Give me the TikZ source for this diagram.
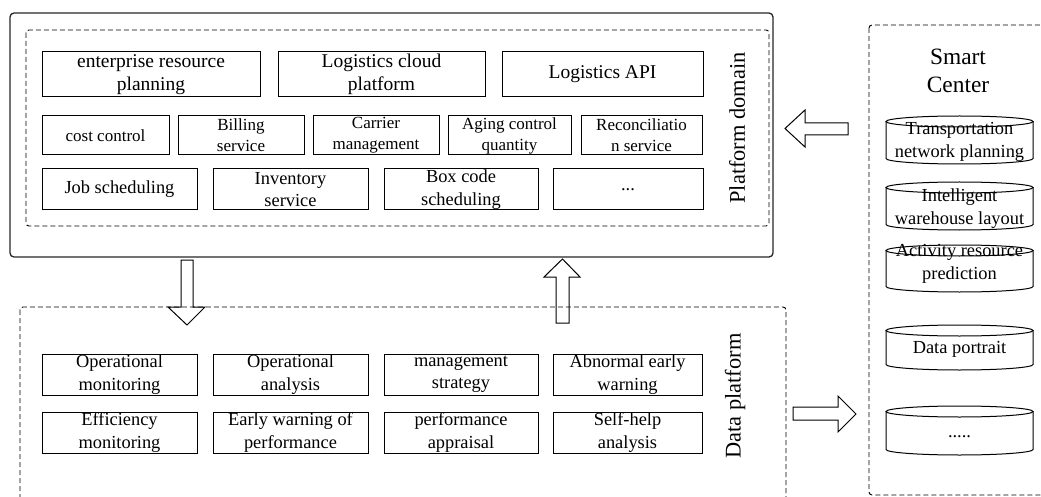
\documentclass[tikz,border=0pt]{standalone}
\usepackage{fontspec}
\setmainfont{Liberation Serif}
\newcommand{\mycyl}[5]{%
  \node[cyltext] (#1) at (959.5,#2) {#5};
  \draw[cylline] (959.5,#3+5.5) ellipse [x radius=73.5pt, y radius=5.5pt];
  \draw[cylline] (886,#3+5.5) -- (886,#4-5.5) arc[start angle=180,end angle=360,x radius=73.5pt,y radius=5.5pt] -- (1033,#3+5.5);
}
\begin{document}
\begin{tikzpicture}[x=1pt,y=-1pt,
  box/.style={draw=black, line width=1pt, inner sep=0pt, align=center},
  fA/.style={font=\fontsize{19.5}{23.5}\selectfont},
  fB/.style={font=\fontsize{17}{21}\selectfont},
  fC/.style={font=\fontsize{18.4}{22.5}\selectfont},
  rowA/.style={box, fA, minimum height=45pt},
  rowB/.style={box, fB, minimum height=39pt},
  rowC/.style={box, fC, minimum height=41pt},
  dbox/.style={draw=black, line width=0.9pt, dash pattern=on 5pt off 3pt, rounded corners=3pt},
  solidbox/.style={draw=black!85, line width=1.3pt, rounded corners=4pt},
  blockarrow/.style={draw=black, line width=1pt, line join=miter},
  cyltext/.style={inner sep=0pt, align=center, font=\fontsize{18.4}{23}\selectfont},
  cylline/.style={draw=black, line width=1pt},
  label/.style={inner sep=0pt, font=\fontsize{22.4}{27}\selectfont},
  title/.style={inner sep=0pt, align=center, font=\fontsize{23.4}{28}\selectfont}
]
\useasboundingbox (0,0) rectangle (1041,497);
\clip (0,0) rectangle (1041,497);

% Platform domain
\draw[solidbox] (10,13) rectangle (773,257);
\draw[dbox] (26,30) rectangle (769,226);

\node[rowA, minimum width=218pt] (erp) at (151,74.5) {enterprise resource\\planning};
\node[rowA, minimum width=207pt] (lcp) at (381.5,74.5) {Logistics cloud\\platform};
\node[rowA, minimum width=201pt] (api) at (602.5,74.5) {Logistics API};

\node[rowB, minimum width=127pt] (cost) at (105.5,135.5) {cost control};
\node[rowB, minimum width=126pt] (bill) at (241,135.5) {Billing\\service};
\node[rowB, minimum width=126pt] (carr) at (376,135.5) {Carrier\\management};
\node[rowB, minimum width=123pt] (aging) at (509.5,135.5) {Aging control\\quantity};
\node[rowB, minimum width=121pt] (recon) at (641.5,135.5) {Reconciliatio\\n service};

\node[rowC, minimum width=155pt] (job) at (119.5,189.5) {Job scheduling};
\node[rowC, minimum width=155pt] (inv) at (290.5,189.5) {Inventory\\service};
\node[rowC, minimum width=154pt] (boxc) at (461,189.5) {Box code\\scheduling};
\node[rowC, minimum width=150pt] (more1) at (628,189.5) {...};

\node[label, rotate=90] (pdlabel) at (737,128) {Platform domain};

% Data platform
\draw[dbox] (20,307) rectangle (786,520);

\node[rowC, minimum width=155pt] (opm) at (119.5,374.5) {Operational\\monitoring};
\node[rowC, minimum width=155pt] (opa) at (290.5,374.5) {Operational\\analysis};
\node[rowC, minimum width=154pt] (mgs) at (461,374.5) {management\\strategy};
\node[rowC, minimum width=149pt] (abn) at (627.5,374.5) {Abnormal early\\warning};

\node[rowC, minimum width=155pt] (eff) at (119.5,432.5) {Efficiency\\monitoring};
\node[rowC, minimum width=155pt] (ewp) at (290.5,432.5) {Early warning of\\performance};
\node[rowC, minimum width=154pt] (pfa) at (461,432.5) {performance\\appraisal};
\node[rowC, minimum width=149pt] (self) at (627.5,432.5) {Self-help\\analysis};

\node[label, rotate=90] (dplabel) at (735,396) {Data platform};

% Smart Center
\draw[dbox] (869,25) rectangle (1060,495);
\node[title] (smart) at (958,71) {Smart\\Center};

\mycyl{cyl1}{142}{116}{164}{Transportation\\network planning}
\mycyl{cyl2}{209}{182}{230}{Intelligent\\warehouse layout}
\mycyl{cyl3}{264}{245}{292}{Activity resource\\prediction}
\mycyl{cyl4}{349}{325}{370}{Data portrait}
\mycyl{cyl5}{437}{406}{455}{.....}

% Block arrows
\draw[blockarrow] (181,260) -- (193,260) -- (193,307) -- (205,307) -- (187,325) -- (168,307) -- (181,307) -- cycle;
\draw[blockarrow] (556,323) -- (569,323) -- (569,277) -- (580,277) -- (562.5,259) -- (544,277) -- (556,277) -- cycle;
\draw[blockarrow] (848,123) -- (805,123) -- (805,110) -- (785,128.5) -- (805,147) -- (805,135) -- (848,135) -- cycle;
\draw[blockarrow] (793,407) -- (838,407) -- (838,396) -- (856,414) -- (838,432) -- (838,420) -- (793,420) -- cycle;
\end{tikzpicture}
\end{document}
